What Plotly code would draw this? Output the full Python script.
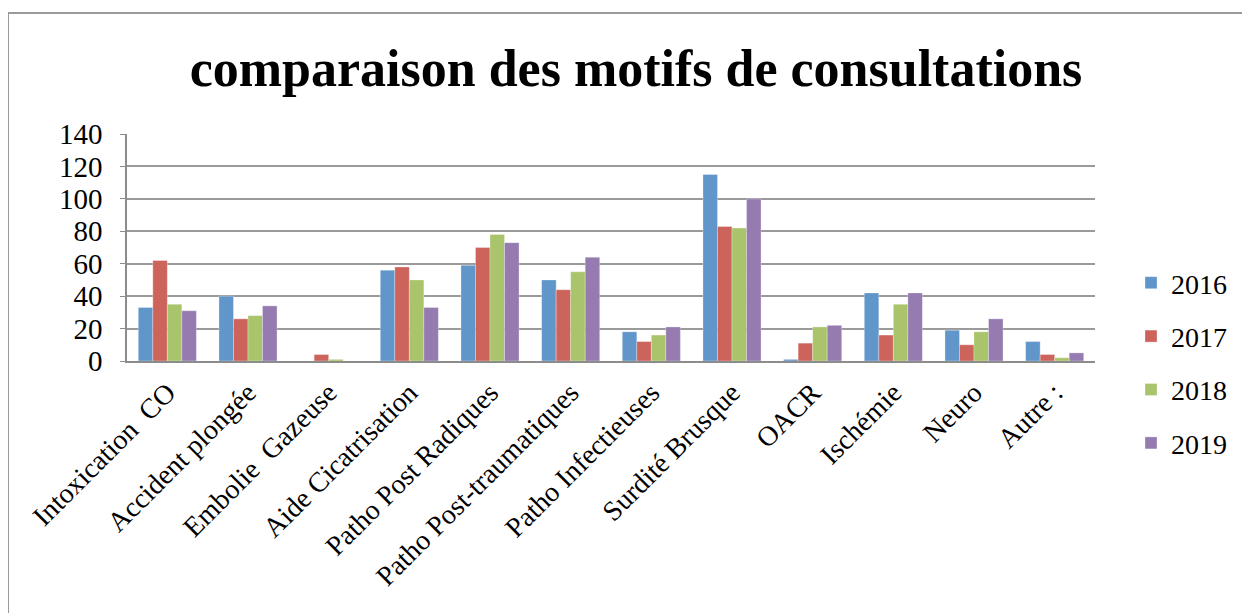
import plotly.graph_objects as go

categories = ["Intoxication  CO", "Accident plongée", "Embolie  Gazeuse", "Aide Cicatrisation",
              "Patho Post Radiques", "Patho Post-traumatiques", "Patho Infectieuses",
              "Surdité Brusque", "OACR", "Ischémie", "Neuro", "Autre :"]
v2016 = [33, 40, 0, 56, 59, 50, 18, 115, 1, 42, 19, 12]
v2017 = [62, 26, 4, 58, 70, 44, 12, 83, 11, 16, 10, 4]
v2018 = [35, 28, 1, 50, 78, 55, 16, 82, 21, 35, 18, 2]
v2019 = [31, 34, 0, 33, 73, 64, 21, 100, 22, 42, 26, 5]
years = ["2016", "2017", "2018", "2019"]
colors = ["#6096CA", "#CC645C", "#A9C46A", "#957BB0"]
series = [v2016, v2017, v2018, v2019]

FONT = "Liberation Serif"
fig = go.Figure()
for name, vals, col in zip(years, series, colors):
    fig.add_trace(go.Bar(x=categories, y=vals,
                         name=f"<span style='font-family:Liberation Serif'>{name}</span>",
                         legendgroup=name,
                         marker=dict(color=col, line=dict(color="rgba(255,255,255,0.5)", width=0.6))))

# page has an 8px body margin, so figure coords = page coords - 8
W, H = 1242, 605
L, T = 119, 126
R, B = W - 1087, H - 353
pw, ph = W - L - R, H - T - B

fig.update_layout(
    width=W, height=H,
    margin=dict(l=L, r=R, t=T, b=B, autoexpand=False),
    paper_bgcolor="white", plot_bgcolor="white",
    barmode="group", bargap=0.28, bargroupgap=0,
    title=dict(text="<b>comparaison des motifs de consultations</b>", x=628 / W, xanchor="center",
               y=1 - 60 / H, yanchor="middle",
               font=dict(family=FONT, size=52, color="black")),
    font=dict(family=FONT, size=22, color="black"),
    legend=dict(x=(1123 - L) / pw, xanchor="left", y=1 - (355 - T) / ph, yanchor="middle",
                tracegroupgap=14, bgcolor="rgba(0,0,0,0)",
                font=dict(family=FONT, size=28, color="black")),
    showlegend=True,
)
fig.update_yaxes(range=[0, 140], dtick=20, showgrid=True, gridcolor="#9a9a9a", gridwidth=1.5,
                 showline=True, linecolor="#8c8c8c", linewidth=1.5, ticks="outside", ticklen=5,
                 tickcolor="#8c8c8c", tickfont=dict(family=FONT, size=29, color="black"),
                 zeroline=False, automargin=False, ticklabelstandoff=12)
fig.update_xaxes(showline=True, linecolor="#8c8c8c", linewidth=2, tickangle=-45,
                 ticks="", tickfont=dict(family=FONT, size=28, color="black"), automargin=False,
                 ticklabelstandoff=2)

fig.add_shape(type="rect", xref="paper", yref="paper",
              x0=(0 - L) / pw, x1=(1239 - L) / pw, y0=-(H + 100 - (H - B)) / ph, y1=(H - B - 5) / ph,
              line=dict(color="#9a9a9a", width=2), fillcolor="rgba(0,0,0,0)", layer="below")

fig.write_html("out.html")
